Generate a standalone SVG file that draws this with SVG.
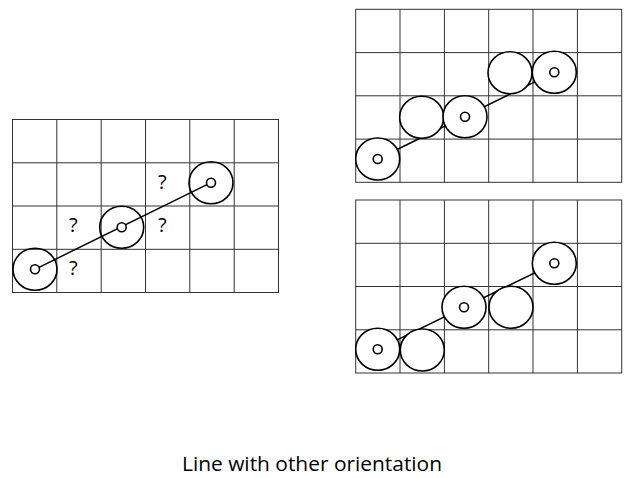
<svg xmlns="http://www.w3.org/2000/svg" width="638" height="478" viewBox="0 0 638 478">
<style>
.g{stroke:#333;stroke-width:1;fill:none}
.c{fill:#fff;stroke:#000;stroke-width:1.6}
.o{fill:none;stroke:#000;stroke-width:1.6}
.l{stroke:#000;stroke-width:1.5}
.q{font-family:"Open Sans",sans-serif;font-size:20px;text-anchor:middle}
</style>
<defs>
<g id="grid">
<rect x="0" y="0" width="266" height="173" class="g"/>
<path class="g" d="M44.3,0V173M88.7,0V173M133,0V173M177.3,0V173M221.7,0V173M0,43.3H266M0,86.5H266M0,129.8H266"/>
</g>
</defs>
<g id="grid-left"><use href="#grid" x="12.5" y="119.5"/></g>
<g id="grid-top-right"><use href="#grid" x="355.7" y="9.3"/></g>
<g id="grid-bottom-right"><use href="#grid" x="355.7" y="200"/></g>
<g id="connectors">
<line class="l" x1="35" y1="269.3" x2="211" y2="182.7"/>
<line class="l" x1="377.7" y1="159" x2="554.3" y2="72.3"/>
<line class="l" x1="377.7" y1="349.3" x2="554.3" y2="263.3"/>
</g>
<g id="left-nodes">
<ellipse class="o" cx="35" cy="269.3" rx="22" ry="21"/><circle class="c" cx="35" cy="269.3" r="4.5"/>
<ellipse class="o" cx="121.7" cy="227.3" rx="22" ry="21"/><circle class="c" cx="121.7" cy="227.3" r="4.5"/>
<ellipse class="o" cx="211" cy="182.7" rx="22" ry="21"/><circle class="c" cx="211" cy="182.7" r="4.5"/>
<text class="q" x="73.3" y="232">?</text>
<text class="q" x="162.3" y="189">?</text>
<text class="q" x="162.3" y="232">?</text>
<text class="q" x="73.3" y="275">?</text>
</g>
<g id="top-right-nodes">
<ellipse class="c" cx="377.7" cy="159" rx="22" ry="21"/><circle class="c" cx="377.7" cy="159" r="4.5"/>
<ellipse class="c" cx="421.7" cy="117.3" rx="22" ry="21"/>
<ellipse class="c" cx="465" cy="116.7" rx="22" ry="21"/><circle class="c" cx="465" cy="116.7" r="4.5"/>
<ellipse class="c" cx="510" cy="72.7" rx="22" ry="21"/>
<ellipse class="c" cx="554.3" cy="72.3" rx="22" ry="21"/><circle class="c" cx="554.3" cy="72.3" r="4.5"/>
</g>
<g id="bottom-right-nodes">
<ellipse class="c" cx="377.7" cy="349.3" rx="22" ry="21"/><circle class="c" cx="377.7" cy="349.3" r="4.5"/>
<ellipse class="c" cx="422.3" cy="350" rx="22" ry="21"/>
<ellipse class="c" cx="464" cy="307.3" rx="22" ry="21"/><circle class="c" cx="464" cy="307.3" r="4.5"/>
<ellipse class="c" cx="511" cy="307.3" rx="22" ry="21"/>
<ellipse class="c" cx="554.3" cy="263.3" rx="22" ry="21"/><circle class="c" cx="554.3" cy="263.3" r="4.5"/>
</g>
<g id="caption"><text x="312" y="471" font-family="'Open Sans',sans-serif" font-size="20.5" text-anchor="middle" textLength="260" lengthAdjust="spacingAndGlyphs">Line with other orientation</text></g>
</svg>
